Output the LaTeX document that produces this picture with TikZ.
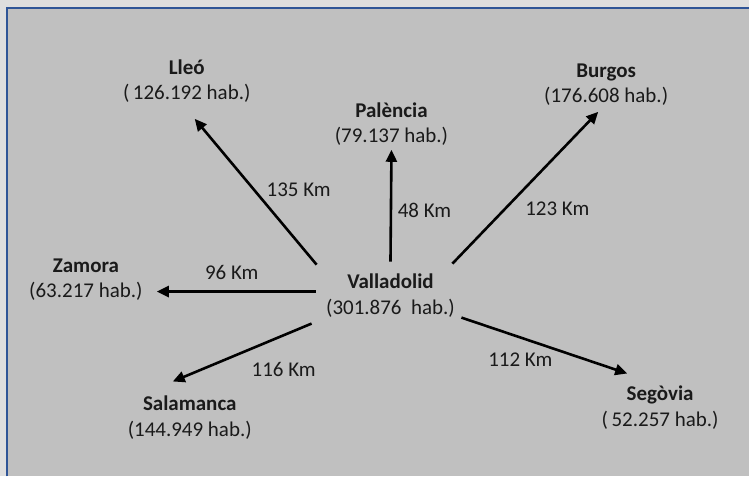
\documentclass[tikz,border=0pt]{standalone}
\usepackage{fontspec}
\setmainfont{Carlito}
\usetikzlibrary{arrows.meta}
\definecolor{pagebg}{HTML}{DEDEDE}
\definecolor{panel}{HTML}{C0C0C0}
\definecolor{frameblue}{HTML}{2F5597}
\definecolor{ink}{HTML}{1A1A1A}
\begin{document}
\begin{tikzpicture}[x=1pt,y=-1pt,
  city/.style={align=center, font=\fontsize{21}{25.5}\selectfont, text=ink, inner sep=0pt},
  dist/.style={font=\fontsize{21}{25}\selectfont, text=ink, inner sep=0pt},
  road/.style={line width=2.6pt, draw=black, -{Triangle[length=12pt,width=11pt]}}]
% page and framed panel
\fill[pagebg] (0,0) rectangle (750,477);
\fill[panel] (7,8) rectangle (750,477);
\draw[frameblue, line width=2pt] (7,477) -- (7,8) -- (750,8);
\useasboundingbox (0,0) rectangle (750,477);

% cities
\node[city] (valladolid) at (391,296) {\textbf{Valladolid}\\(301.876~ hab.)};
\node[city] (lleo)       at (187,81)  {\textbf{Lleó}\\(\,126.192 hab.)};
\node[city] (palencia)   at (392,124) {\textbf{Palència}\\(79.137 hab.)};
\node[city] (burgos)     at (607,85)  {\textbf{Burgos}\\(176.608 hab.)};
\node[city] (zamora)     at (86,280)  {\textbf{Zamora}\\(63.217 hab.)};
\node[city] (salamanca)  at (190,418) {\textbf{Salamanca}\\(144.949 hab.)};
\node[city] (segovia)    at (661,408) {\textbf{Segòvia}\\(\,52.257 hab.)};

% arrow end points
\coordinate (v-lleo) at (317,265);      \coordinate (t-lleo) at (195,119);
\coordinate (v-palencia) at (391,262);  \coordinate (t-palencia) at (392,150);
\coordinate (v-burgos) at (453,264);    \coordinate (t-burgos) at (599,112);
\coordinate (v-zamora) at (316,292);    \coordinate (t-zamora) at (157,292);
\coordinate (v-salamanca) at (312,324); \coordinate (t-salamanca) at (173,382);
\coordinate (v-segovia) at (462,318);   \coordinate (t-segovia) at (628,374);

% roads with distances
\draw[road] (v-lleo) -- (t-lleo);
\draw[road] (v-palencia) -- (t-palencia);
\draw[road] (v-burgos) -- (t-burgos);
\draw[road] (v-zamora) -- (t-zamora);
\draw[road] (v-salamanca) -- (t-salamanca);
\draw[road] (v-segovia) -- (t-segovia);

\node[dist] (d-lleo)      at (299,190) {135 Km};
\node[dist] (d-palencia)  at (425,211) {48 Km};
\node[dist] (d-burgos)    at (558,209) {123 Km};
\node[dist] (d-zamora)    at (232,273) {96 Km};
\node[dist] (d-salamanca) at (284,370) {116 Km};
\node[dist] (d-segovia)   at (521,360) {112 Km};
\end{tikzpicture}
\end{document}
